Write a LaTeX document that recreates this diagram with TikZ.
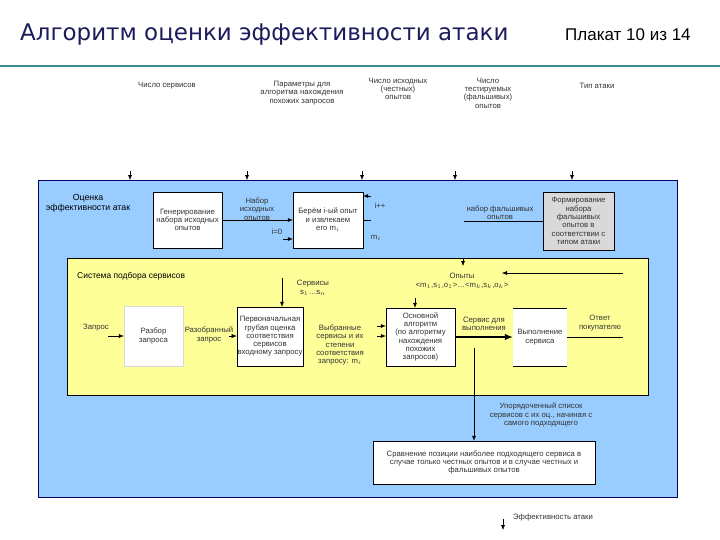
\documentclass[tikz,border=0pt]{standalone}
\usepackage{fontspec}
\setmainfont{Liberation Sans}
\newfontfamily\titlefont{DejaVu Sans}
\usepackage{xcolor}
\definecolor{panelblue}{HTML}{99CCFF}
\definecolor{panelyellow}{HTML}{FFFF99}
\definecolor{boxgray}{HTML}{D9D9D9}
\definecolor{headnavy}{HTML}{1C1C5C}
\definecolor{ruleteal}{HTML}{3C8C8C}
\definecolor{inktext}{HTML}{333333}
\usetikzlibrary{arrows.meta, positioning}

\begin{document}
\begin{tikzpicture}[x=0.3mm, y=-0.3mm,
  lbl/.style={align=center, inner sep=0pt, text=inktext, font=\fontsize{6.6}{7.1}\selectfont},
  blk/.style={draw=black, fill=white, line width=0.4pt, align=center, inner sep=0.5pt, text=inktext, font=\fontsize{6.6}{7.1}\selectfont},
  arr/.style={-{Latex[length=1.5mm,width=1.2mm]}, line width=0.4pt},
  bigarr/.style={-{Latex[length=2.4mm,width=2mm]}, line width=1.1pt}]
  \useasboundingbox (0,0) rectangle (720,540);
  \fill[white] (0,0) rectangle (720,540);

  % header
  \node[anchor=west, inner sep=0pt, text=headnavy, font=\titlefont\fontsize{19.6}{22}\selectfont] (title) at (20,35) {Алгоритм оценки эффективности атаки};
  \node[anchor=west, inner sep=0pt, text=black, font=\fontsize{14.5}{16}\selectfont] (page) at (565,35) {Плакат 10 из 14};
  \draw[ruleteal, line width=1.1pt] (0,66) -- (720,66);

  % inputs
  \node[lbl] (nserv) at (167,86) {Число сервисов};
  \node[lbl] (params) at (302,93) {Параметры для\\алгоритма нахождения\\похожих запросов};
  \node[lbl] (nhon) at (398,89) {Число исходных\\(честных)\\опытов};
  \node[lbl] (nfake) at (488,93) {Число\\тестируемых\\(фальшивых)\\опытов};
  \node[lbl] (atype) at (597,86) {Тип атаки};

  % outer panel
  \draw[fill=panelblue, draw=blue!40!black, line width=0.4pt] (38,180) rectangle (677,497);
  \foreach \x in {130,247,362,455,572}
    \draw[arr] (\x,171) -- (\x,180);
  \node[lbl, text=black, font=\fontsize{7.5}{8.3}\selectfont] (outer) at (88,203) {Оценка\\эффективности атак};

  \node[blk, minimum width=20.7mm, minimum height=16.8mm] (gen) at (187.5,220) {Генерирование\\набора исходных\\опытов};
  \node[blk, minimum width=21mm, minimum height=16.8mm] (take) at (328,220) {Берём i-ый опыт\\и извлекаем\\его m$_i$};
  \node[blk, fill=boxgray, minimum width=21.3mm, minimum height=17.4mm] (prep) at (578.5,221) {Формирование\\набора\\фальшивых\\опытов в\\соответствии с\\типом атаки};

  \draw[arr] (gen) -- (take);
  \node[lbl] (hset) at (257,209) {Набор\\исходных\\опытов};
  \node[lbl] (izero) at (277,232) {i=0};
  \coordinate (izin) at (283,239);
  \draw[arr] (izin) -- (izin -| take.west);
  \coordinate (iplus) at (371,196);
  \draw[arr] (iplus) -- (iplus -| take.east);
  \node[lbl] (inc) at (380,206) {i++};
  \coordinate (mout) at (371,220);
  \draw (take) -- (mout);
  \node[lbl] (mi) at (376,238) {m$_i$};

  \coordinate (fend) at (464,221);
  \draw (prep.west |- fend) -- (fend);
  \node[lbl] (fset) at (500,213) {набор фальшивых\\опытов};

  % inner panel
  \draw[fill=panelyellow, draw=black, line width=0.4pt] (67,258) rectangle (648,395);
  \node[lbl, anchor=west, text=black, font=\fontsize{7.2}{8}\selectfont] (inner) at (77,276) {Система подбора сервисов};

  \node[lbl] (req) at (96,328) {Запрос};
  \node[fill=white, draw=white!85!black, line width=0.3pt, align=center, inner sep=1pt, text=inktext, font=\fontsize{6.6}{7.1}\selectfont, minimum width=17.7mm, minimum height=18mm] (parse) at (153.5,336) {Разбор\\запроса};
  \coordinate (reqin) at (108,336);
  \draw[arr] (reqin) -- (parse);

  \node[lbl] (parsed) at (209,335) {Разобранный\\запрос};
  \node[blk, minimum width=18mm, minimum height=17.7mm] (rough) at (270,336.5) {Первоначальная\\грубая оценка\\соответствия\\сервисов\\входному запросу};
  \coordinate (parsin) at (229,336);
  \draw[arr] (parsin) -- (parsin -| rough.west);
  \coordinate (sin) at (282,278);
  \draw[arr] (sin) -- (sin |- rough.north);
  \node[lbl] (servs) at (313,288) {Сервисы\\s$_1$…s$_n$};

  \node[lbl] (chosen) at (340,345) {Выбранные\\сервисы и их\\степени\\соответствия\\запросу: m$_i$};
  \node[blk, minimum width=20.7mm, minimum height=17.4mm] (core) at (420.5,337) {Основной\\алгоритм\\(по алгоритму\\нахождения\\похожих\\запросов)};
  \coordinate (cin1) at (377,326);
  \coordinate (cin2) at (377,336);
  \draw[arr] (cin1) -- (cin1 -| core.west);
  \draw[arr] (cin2) -- (cin2 -| core.west);
  \coordinate (ctop) at (415,298);
  \draw[arr] (ctop) -- (ctop |- core.north);

  \node[lbl] (trials) at (462,281) {Опыты\\<m$_1$,s$_1$,o$_1$>…<m$_k$,s$_k$,o$_k$>};
  \coordinate (ttop) at (463,258);
  \draw[arr] (ttop) -- (463,266);
  \coordinate (tfrom) at (623,273);
  \coordinate (tto) at (502,273);
  \draw[arr] (tfrom) -- (tto);

  \node[fill=white, inner sep=1pt, align=center, text=inktext, font=\fontsize{6.6}{7.1}\selectfont, minimum width=16.2mm, minimum height=17.4mm] (run) at (540,337) {Выполнение\\сервиса};
  \draw (run.north west) -- (run.north east);
  \draw (run.south west) -- (run.south east);
  \draw[bigarr] (core) -- (run);
  \node[lbl] (torun) at (484,324) {Сервис для\\выполнения};
  \coordinate (ansout) at (623,337);
  \draw (run) -- (ansout);
  \node[lbl] (answer) at (600,323) {Ответ\\покупателю};

  % comparison
  \node[blk, minimum width=66.6mm, minimum height=12.9mm] (cmp) at (484,462.5) {Сравнение позиции наиболее подходящего сервиса в\\случае только честных опытов и в случае честных и\\фальшивых опытов};
  \coordinate (ordfrom) at (474,348);
  \draw[arr] (ordfrom) -- (ordfrom |- cmp.north);
  \node[lbl] (ordered) at (541,415) {Упорядоченный список\\сервисов с их оц., начиная с\\самого подходящего};

  % output
  \node[lbl] (eff) at (553,517) {Эффективность атаки};
  \coordinate (effout) at (503,519);
  \draw[arr] (effout) -- (503,530);
\end{tikzpicture}
\end{document}
